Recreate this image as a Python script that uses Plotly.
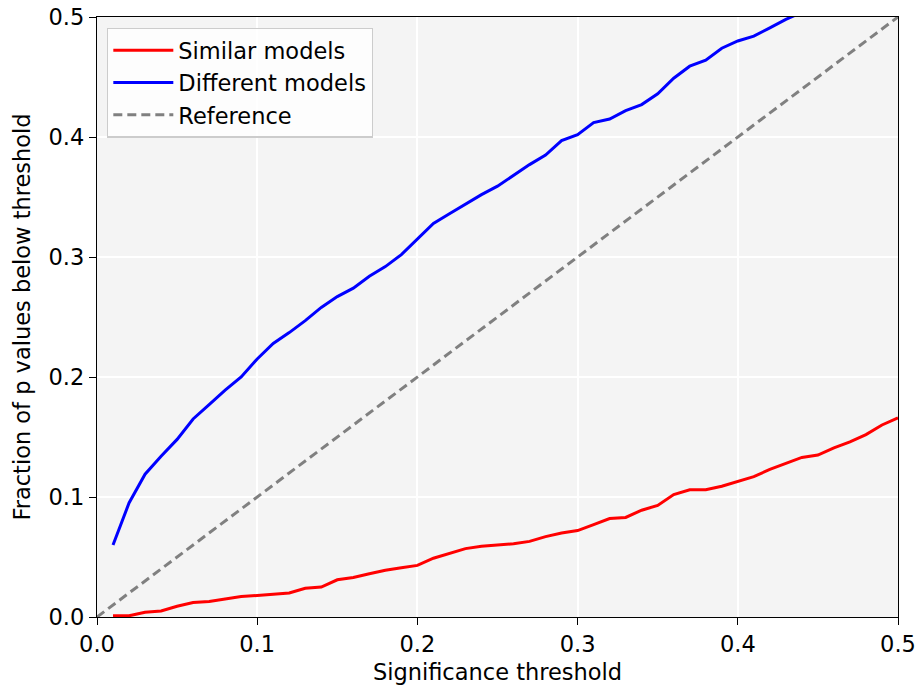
import plotly.graph_objects as go

thresholds = [round(0.01 * i, 2) for i in range(1, 51)]

similar_models = [0.001, 0.001, 0.004, 0.005, 0.009, 0.012, 0.013, 0.015, 0.017, 0.018,
                  0.019, 0.020, 0.024, 0.025, 0.031, 0.033, 0.036, 0.039, 0.041, 0.043,
                  0.049, 0.053, 0.057, 0.059, 0.060, 0.061, 0.063, 0.067, 0.070, 0.072,
                  0.077, 0.082, 0.083, 0.089, 0.093, 0.102, 0.106, 0.106, 0.109, 0.113,
                  0.117, 0.123, 0.128, 0.133, 0.135, 0.141, 0.146, 0.152, 0.160, 0.166]

different_models = [0.060, 0.095, 0.119, 0.134, 0.148, 0.165, 0.177, 0.189, 0.200, 0.215,
                    0.228, 0.237, 0.247, 0.258, 0.267, 0.274, 0.284, 0.292, 0.302, 0.315,
                    0.328, 0.336, 0.344, 0.352, 0.359, 0.368, 0.377, 0.385, 0.397, 0.402,
                    0.412, 0.415, 0.422, 0.427, 0.436, 0.449, 0.459, 0.464, 0.474, 0.480,
                    0.484, 0.491, 0.498, 0.504, 0.511, 0.519, 0.527, 0.535, 0.543, 0.551]

reference_x = [0.0, 0.5]
reference_y = [0.0, 0.5]

tick_vals = [0.0, 0.1, 0.2, 0.3, 0.4, 0.5]
tick_text = ["0.0", "0.1", "0.2", "0.3", "0.4", "0.5"]

FONT_SIZE = 22.5

fig = go.Figure()
fig.add_trace(go.Scatter(x=thresholds, y=similar_models, mode="lines", name="Similar models",
                         line=dict(color="red", width=3)))
fig.add_trace(go.Scatter(x=thresholds, y=different_models, mode="lines", name="Different models",
                         line=dict(color="blue", width=3)))
fig.add_trace(go.Scatter(x=reference_x, y=reference_y, mode="lines", name="Reference",
                         line=dict(color="gray", width=3, dash="9px,5px")))

axis_common = dict(
    showgrid=True, gridcolor="white", gridwidth=2,
    showline=True, linecolor="black", linewidth=1.3, mirror=True,
    ticks="outside", ticklen=7, tickcolor="black", tickwidth=1.3,
    zeroline=False, tickvals=tick_vals, ticktext=tick_text,
    tickfont=dict(size=FONT_SIZE, color="black"),
    automargin=False,
)

fig.update_layout(
    width=921, height=688,
    margin=dict(l=97, r=23, t=17, b=71),
    paper_bgcolor="white", plot_bgcolor="#f4f4f4",
    font=dict(family="DejaVu Sans", color="black"),
    xaxis=dict(range=[0, 0.5], title=dict(text="Significance threshold", font=dict(size=FONT_SIZE), standoff=8), **axis_common),
    yaxis=dict(range=[0, 0.5], title=dict(text="Fraction of p values below threshold", font=dict(size=FONT_SIZE), standoff=11), **axis_common),
    legend=dict(x=0.0125, y=0.982, xanchor="left", yanchor="top",
                bgcolor="rgba(255,255,255,0.8)", bordercolor="#cccccc", borderwidth=1.3,
                font=dict(size=FONT_SIZE), tracegroupgap=0, itemwidth=60),
    showlegend=True,
)

fig.write_html("out.html", config={"displayModeBar": False},
               post_script="document.body.style.margin='0px';")
